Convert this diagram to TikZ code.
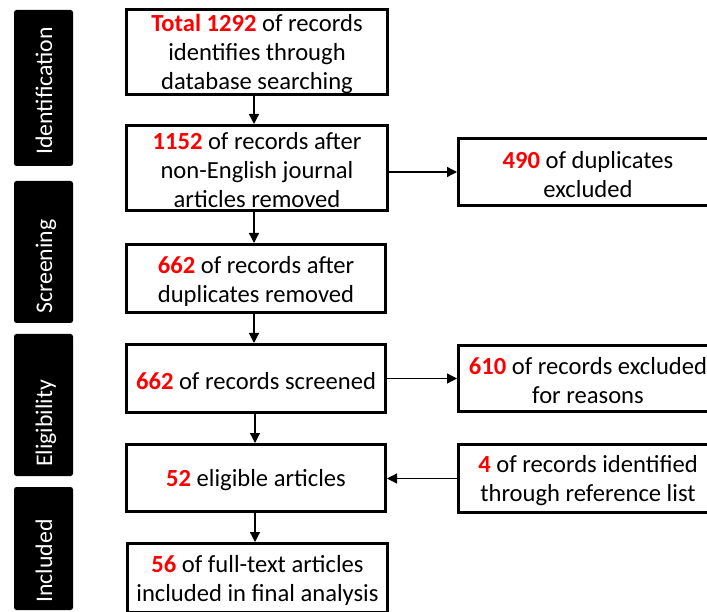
\documentclass[tikz,border=0pt]{standalone}
\usepackage{fontspec}
\setmainfont{Carlito}
\usetikzlibrary{arrows.meta}
\definecolor{numred}{RGB}{255,0,0}
\newcommand\redn[1]{\textcolor{numred}{\bfseries #1}}
% invisible strut that lowers the text block a little inside its box
\newcommand\lowr{\rule{0pt}{22pt}}

\begin{document}
\begin{tikzpicture}[x=1pt,y=-1pt,
  stagebar/.style={fill=black, rounded corners=2.5pt},
  stagetext/.style={text=white, rotate=90, anchor=base west, inner sep=0pt,
    font=\fontsize{23.8}{28}\selectfont},
  box/.style={draw, line width=3pt, fill=white, align=center, inner sep=0pt,
    font=\fontsize{24.6}{29}\selectfont},
  flow/.style={line width=1.3pt, -{Triangle[length=10pt,width=10pt]}}
]
\useasboundingbox (0,0) rectangle (707,612);
\clip (0,0) rectangle (707,612);
\fill[white] (0,0) rectangle (707,612);

% stage bars on the left
\path[stagebar] (14,10)  rectangle (73,166);
\path[stagebar] (14,181) rectangle (73,323);
\path[stagebar] (14,334) rectangle (73,476);
\path[stagebar] (14,487) rectangle (73,610);
\node[stagetext] (sid) at (52,155) {Identification};
\node[stagetext] (ssc) at (52,314) {Screening};
\node[stagetext] (sel) at (52,467) {Eligibility};
\node[stagetext] (sin) at (52,603) {Included};

% main column
\node[box, minimum width=261, minimum height=83] (b1) at (257,52)
  {\lowr\redn{Total 1292} of records\\identifies through\\database searching};
\node[box, minimum width=261, minimum height=85] (b2) at (257,168)
  {\lowr\redn{1152} of records after\\non-English journal\\articles removed};
\node[box, minimum width=259, minimum height=68] (b3) at (256,278.5)
  {\lowr\redn{662} of records after\\duplicates removed};
\node[box, minimum width=259, minimum height=68] (b4) at (256,378.5)
  {\lowr\redn{662} of records screened};
\node[box, minimum width=259, minimum height=67] (b5) at (256,478)
  {\lowr\redn{52} eligible articles};
\node[box, minimum width=260, minimum height=69] (b6) at (257.5,578)
  {\lowr\redn{56} of full-text articles\\included in final analysis};

% side column
\node[box, minimum width=259, minimum height=67] (r1) at (588,172)
  {\lowr\redn{490} of duplicates\\excluded};
\node[box, minimum width=259, minimum height=66] (r2) at (588,378.5)
  {\lowr\redn{610} of records excluded\\for reasons};
\node[box, minimum width=259, minimum height=68] (r3) at (588,478.5)
  {\lowr\redn{4} of records identified\\through reference list};

% connectors
\coordinate (ax1) at (254,0);
\coordinate (ax2) at (255,0);
\draw[flow] (b1.south -| ax1) -- (b2.north -| ax1);
\draw[flow] (b2.south -| ax1) -- (b3.north -| ax1);
\draw[flow] (b3.south -| ax1) -- (b4.north -| ax1);
\draw[flow] (b4.south -| ax2) -- (b5.north -| ax2);
\draw[flow] (b5.south -| ax2) -- (b6.north -| ax2);
\draw[flow] (b2.east |- r1.west) -- (r1.west);
\draw[flow] (b4.east) -- (r2.west);
\draw[flow] (r3.west) -- (b5.east |- r3.west);
\end{tikzpicture}
\end{document}
